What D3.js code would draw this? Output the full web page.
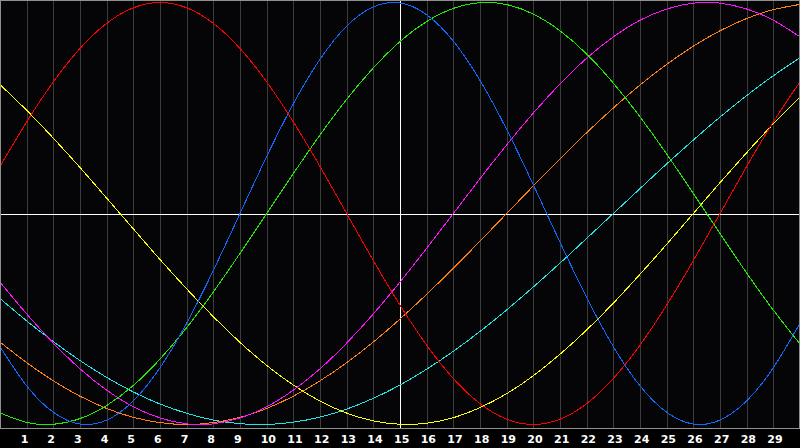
<!DOCTYPE html>
<html>
<head>
<meta charset="utf-8">
<script src="https://cdn.jsdelivr.net/npm/d3@7"></script>
<style>
  html, body { margin: 0; padding: 0; background: #000; }
  svg { display: block; }
</style>
</head>
<body>
<svg id="chart" width="800" height="448"></svg>
<script>
// days sampled along the x axis (0..30) and the labels shown under the grid
const days = d3.range(0, 31);
const dayLabels = d3.range(1, 30);
const todayDay = 15;

// cycle values read per day from the picture (-1..1)
const red = [0.223, 0.434, 0.624, 0.782, 0.901, 0.975, 1.000, 0.975, 0.901, 0.782, 0.624, 0.434, 0.223, 0.000, -0.223, -0.434, -0.624, -0.782, -0.901, -0.975, -1.000, -0.975, -0.901, -0.782, -0.624, -0.434, -0.223, 0.000, 0.223, 0.434, 0.624];
const blue = [-0.631, -0.817, -0.942, -0.998, -0.979, -0.888, -0.731, -0.520, -0.270, 0.000, 0.270, 0.520, 0.731, 0.888, 0.979, 0.998, 0.942, 0.817, 0.631, 0.398, 0.136, -0.136, -0.398, -0.631, -0.817, -0.942, -0.998, -0.979, -0.888, -0.731, -0.520];
const green = [-0.945, -0.990, -0.999, -0.972, -0.910, -0.815, -0.690, -0.541, -0.372, -0.189, 0.000, 0.189, 0.372, 0.541, 0.690, 0.815, 0.910, 0.972, 0.999, 0.990, 0.945, 0.866, 0.756, 0.618, 0.458, 0.282, 0.095, -0.095, -0.282, -0.458, -0.618];
const magenta = [-0.325, -0.476, -0.614, -0.736, -0.837, -0.916, -0.969, -0.997, -0.997, -0.969, -0.916, -0.837, -0.736, -0.614, -0.476, -0.325, -0.165, 0.000, 0.165, 0.325, 0.476, 0.614, 0.736, 0.837, 0.916, 0.969, 0.997, 0.997, 0.969, 0.916, 0.837];
const yellow = [0.611, 0.489, 0.357, 0.218, 0.073, -0.073, -0.218, -0.357, -0.489, -0.611, -0.720, -0.813, -0.889, -0.946, -0.983, -0.999, -0.994, -0.968, -0.920, -0.854, -0.769, -0.667, -0.552, -0.425, -0.288, -0.146, 0.000, 0.146, 0.288, 0.425, 0.552];
const orange = [-0.609, -0.707, -0.793, -0.866, -0.924, -0.966, -0.991, -1.000, -0.991, -0.966, -0.924, -0.866, -0.793, -0.707, -0.609, -0.500, -0.383, -0.259, -0.131, 0.000, 0.131, 0.259, 0.383, 0.500, 0.609, 0.707, 0.793, 0.866, 0.924, 0.966, 0.991];
const cyan = [-0.403, -0.509, -0.607, -0.697, -0.777, -0.846, -0.903, -0.947, -0.979, -0.996, -1.000, -0.989, -0.965, -0.927, -0.876, -0.813, -0.738, -0.653, -0.559, -0.457, -0.348, -0.235, -0.118, 0.000, 0.118, 0.235, 0.348, 0.457, 0.559, 0.653, 0.738];

const series = [
	{values: cyan, color: "#1ee6e6"},
	{values: orange, color: "#ff8010"},
	{values: yellow, color: "#ffff00"},
	{values: magenta, color: "#ff10ff"},
	{values: green, color: "#20ee00"},
	{values: blue, color: "#1068ff"},
	{values: red, color: "#ff0000"}
];

const width = 800, plotBottom = 428;
const svg = d3.select("#chart");

const x = d3.scaleLinear().domain([0, 30]).range([0, width]);
const y = d3.scaleLinear().domain([-1, 1]).range([424.5, 2.5]);
const px = v => Math.round(v) + 0.5;

svg.append("rect")
	.attr("width", 800).attr("height", 448)
	.attr("fill", "#000000");
svg.append("rect")
	.attr("width", 800).attr("height", plotBottom)
	.attr("fill", "#050508");

// vertical day grid
svg.append("g")
	.selectAll("line")
	.data(dayLabels.filter(d => d !== todayDay))
	.join("line")
	.attr("x1", d => px(x(d))).attr("x2", d => px(x(d)))
	.attr("y1", 0).attr("y2", plotBottom)
	.attr("stroke", "#3c3c3c")
	.attr("shape-rendering", "crispEdges");

// zero line and today marker
svg.append("line")
	.attr("x1", 0).attr("x2", width)
	.attr("y1", px(y(0))).attr("y2", px(y(0)))
	.attr("stroke", "#ffffff")
	.attr("shape-rendering", "crispEdges");
svg.append("line")
	.attr("x1", px(x(todayDay))).attr("x2", px(x(todayDay)))
	.attr("y1", 0).attr("y2", plotBottom)
	.attr("stroke", "#ffffff")
	.attr("shape-rendering", "crispEdges");

// cycle curves
const line = d3.line()
	.x((d, i) => x(days[i]))
	.y(d => y(d))
	.curve(d3.curveNatural);

svg.append("g")
	.selectAll("path")
	.data(series)
	.join("path")
	.attr("d", s => line(s.values))
	.attr("fill", "none")
	.attr("stroke", s => s.color)
	.attr("stroke-width", 1)
	.attr("shape-rendering", "crispEdges");

// frame
svg.append("rect")
	.attr("x", 0.5).attr("y", 0.5)
	.attr("width", width - 1).attr("height", plotBottom - 0.5)
	.attr("fill", "none")
	.attr("stroke", "#909090")
	.attr("shape-rendering", "crispEdges");

// day labels
svg.append("g")
	.selectAll("text")
	.data(dayLabels)
	.join("text")
	.attr("x", d => x(d) - 6)
	.attr("y", 443)
	.attr("fill", "#ffffff")
	.attr("font-family", "DejaVu Sans, sans-serif")
	.attr("font-weight", "bold")
	.attr("font-size", "11px")
	.text(d => d);
</script>
</body>
</html>
